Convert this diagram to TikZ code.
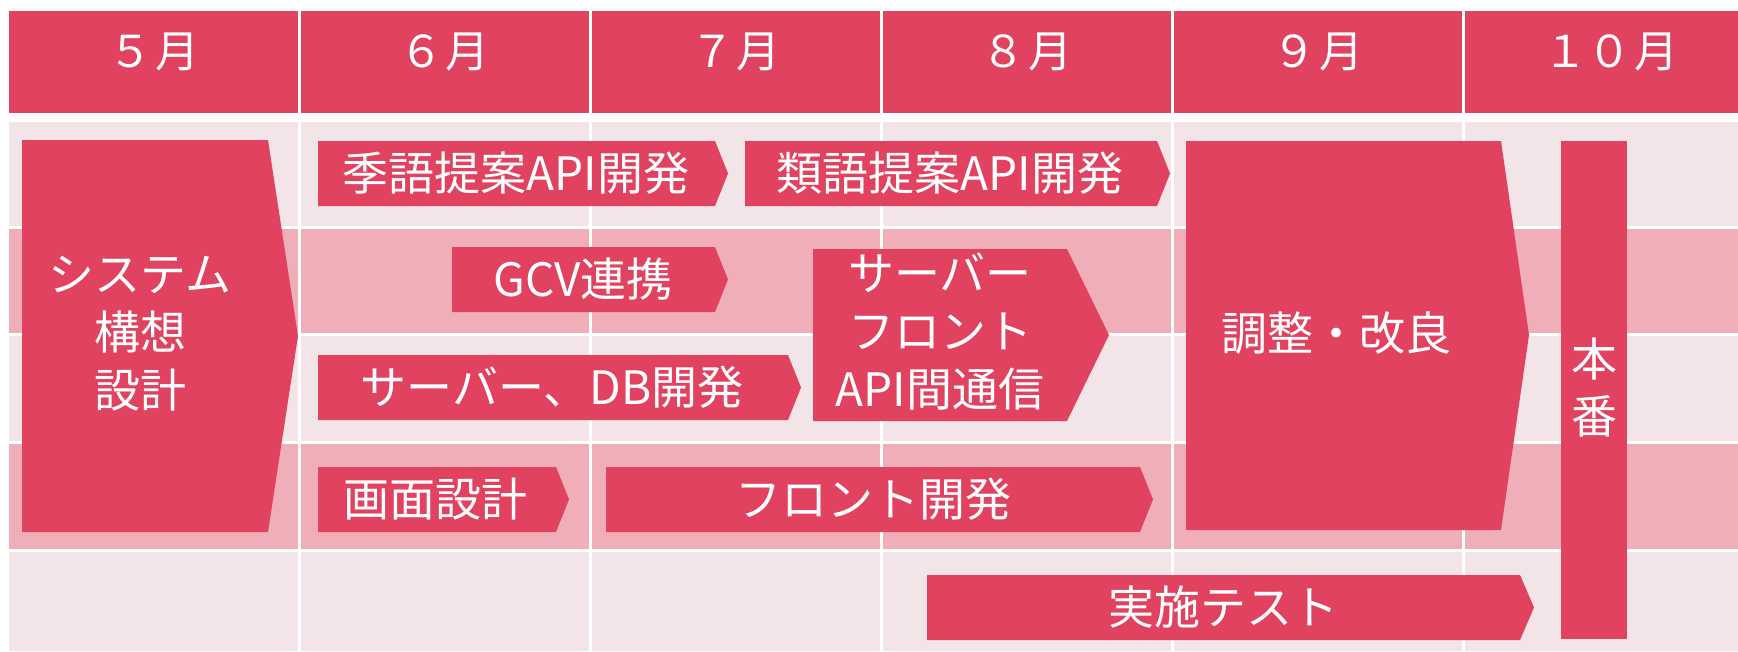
\documentclass[tikz,border=0pt]{standalone}
\usepackage{fontspec}
\setmainfont{Noto Sans CJK JP}
\definecolor{barcol}{RGB}{224,66,95}
\definecolor{lightrow}{RGB}{242,228,231}
\definecolor{pinkrow}{RGB}{240,175,184}
\newcommand\chev[6]{\fill[barcol] (#1,#3) -- (#2,#3) -- (#5,#6) -- (#2,#4) -- (#1,#4) -- cycle;}
\newcommand\mon[1]{#1\hspace{3pt}月}
\tikzset{
  lbl/.style={text=white, inner sep=0pt, align=center, font=\fontsize{46}{58}\selectfont},
  hdr/.style={text=white, inner sep=0pt, font=\fontsize{44}{50}\selectfont},
  grid line/.style={white, line width=3pt}
}
\begin{document}
\begin{tikzpicture}[x=1pt,y=-1pt]
\useasboundingbox (0,0) rectangle (1738,651);
\fill[white] (0,0) rectangle (1738,651);
% header
\fill[barcol] (9,11) rectangle (1738,113);
% rows
\fill[lightrow] (9,122) rectangle (1738,226);
\fill[pinkrow] (9,229) rectangle (1738,333);
\fill[lightrow] (9,336) rectangle (1738,441);
\fill[pinkrow] (9,444) rectangle (1738,549);
\fill[lightrow] (9,552) rectangle (1738,651);
\foreach \x in {299,590,881,1172,1463} \draw[grid line] (\x,11) -- (\x,651);
% header labels
\node[hdr] (m5) at (154,52) {\mon{５}};
\node[hdr] (m6) at (444.5,52) {\mon{６}};
\node[hdr] (m7) at (735.5,52) {\mon{７}};
\node[hdr] (m8) at (1026.5,52) {\mon{８}};
\node[hdr] (m9) at (1317.5,52) {\mon{９}};
\node[hdr] (m10) at (1611,52) {\mon{１０}};
% bars
\chev{22}{268}{140}{532}{298}{336}
\chev{318}{715}{141}{206}{728}{173.5}
\chev{745}{1157}{141}{206}{1170}{173.5}
\chev{452}{715}{247}{312}{728}{279.5}
\chev{318}{788}{355}{420}{801}{387.5}
\chev{813}{1067}{249}{421}{1109}{335}
\chev{318}{556}{467}{532}{569}{499.5}
\chev{606}{1140}{467}{532}{1153}{499.5}
\chev{927}{1520}{575}{640}{1534}{607.5}
\chev{1186}{1501}{141}{530}{1529}{335}
\fill[barcol] (1561,141) rectangle (1627,639);
% labels
\node[lbl] (sys) at (140,334) {システム\\構想\\設計};
\node[lbl] (kigo) at (516,173) {季語提案API開発};
\node[lbl] (ruigo) at (950,173) {類語提案API開発};
\node[lbl] (gcv) at (583,279) {GCV連携};
\node[lbl] (srvdb) at (552,387) {サーバー、DB開発};
\node[lbl] (api) at (940,332) {サーバー\\フロント\\API間通信};
\node[lbl] (gamen) at (435,499) {画面設計};
\node[lbl] (front) at (873,499) {フロント開発};
\node[lbl] (test) at (1223,607) {実施テスト};
\node[lbl] (adj) at (1336,333) {調整・改良};
\node[lbl, font=\fontsize{46}{57}\selectfont] (prod) at (1594,388) {本\\番};
\end{tikzpicture}
\end{document}
